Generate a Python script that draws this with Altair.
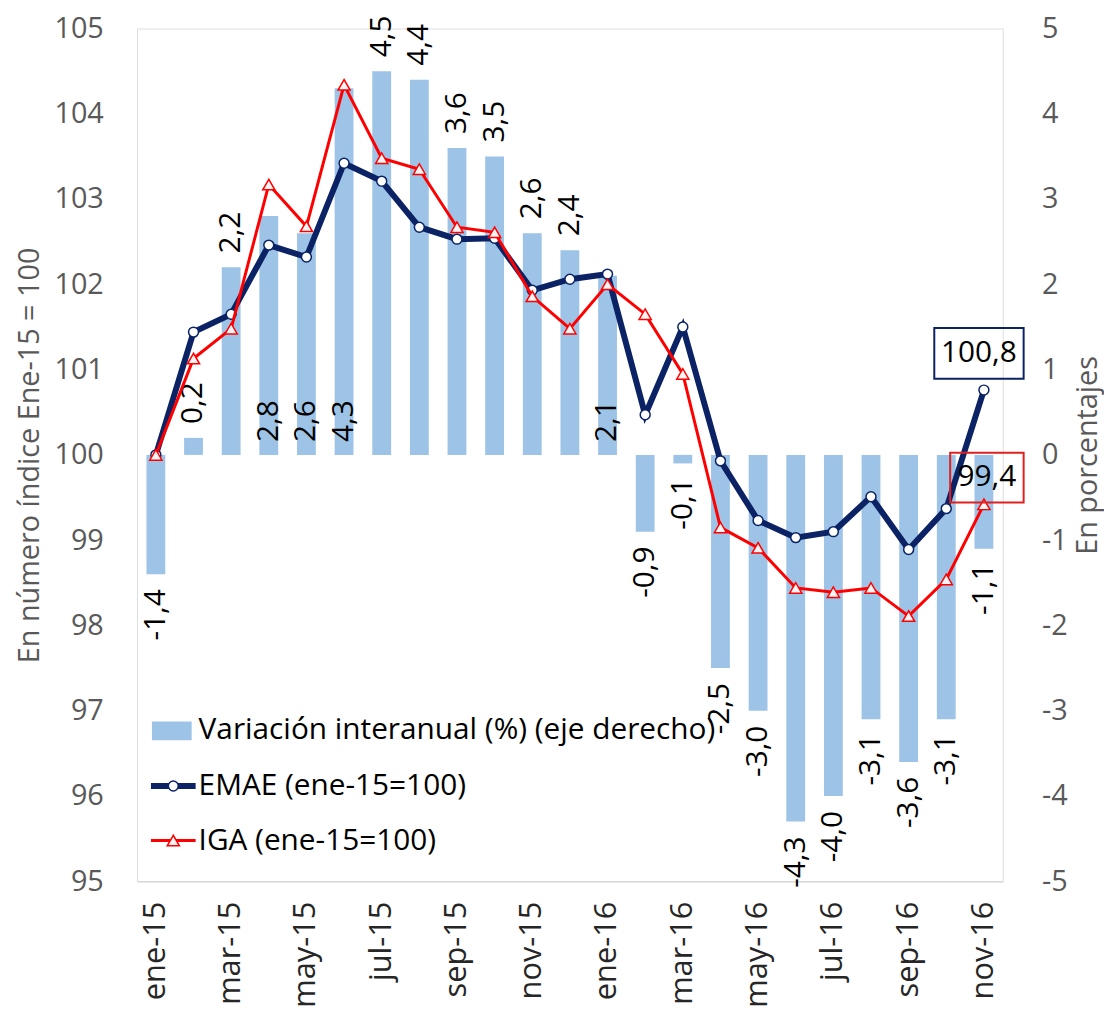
import altair as alt
import pandas as pd

meses = ["ene-15", "feb-15", "mar-15", "abr-15", "may-15", "jun-15", "jul-15", "ago-15",
         "sep-15", "oct-15", "nov-15", "dic-15", "ene-16", "feb-16", "mar-16", "abr-16",
         "may-16", "jun-16", "jul-16", "ago-16", "sep-16", "oct-16", "nov-16"]
variacion = [-1.4, 0.2, 2.2, 2.8, 2.6, 4.3, 4.5, 4.4, 3.6, 3.5, 2.6, 2.4, 2.1,
             -0.9, -0.1, -2.5, -3.0, -4.3, -4.0, -3.1, -3.6, -3.1, -1.1]
emae = [100.0, 101.44, 101.65, 102.46, 102.32, 103.42, 103.21, 102.67, 102.53, 102.54,
        101.93, 102.06, 102.12, 100.47, 101.50, 99.93, 99.23, 99.03, 99.10, 99.51,
        98.89, 99.37, 100.76]
iga = [100.0, 101.13, 101.48, 103.17, 102.68, 104.34, 103.48, 103.35, 102.67, 102.61,
       101.86, 101.48, 102.0, 101.65, 100.95, 99.15, 98.91, 98.44, 98.39, 98.44,
       98.11, 98.54, 99.42]
etiqueta_base = ["abr-15", "may-15", "jun-15", "ene-16"]
meses_eje = meses[::2]
leyenda = ["Variación interanual (%) (eje derecho)", "EMAE (ene-15=100)", "IGA (ene-15=100)"]
titulo_izq = "En número índice Ene-15 = 100"
titulo_der = "En porcentajes"

def coma(v):
    return f"{v:.1f}".replace(".", ",")

df = pd.DataFrame({
    "mes": meses,
    "var": variacion,
    "emae": emae,
    "iga": iga,
    "lab": [coma(v) for v in variacion],
    "base": [m in etiqueta_base for m in meses],
    "lab_emae": [coma(v) for v in emae],
    "lab_iga": [coma(v) for v in iga],
})

FONT = "Open Sans"
NAVY = "#0B2265"
RED = "#FF0000"
BARC = "#9DC3E6"
GRAY = "#595959"
W, H = 872, 859

x = alt.X("mes:N", sort=meses,
          scale=alt.Scale(paddingInner=0.5, paddingOuter=0.25),
          axis=alt.Axis(values=meses_eje, labelAngle=270, labelFontSize=31, labelFont=FONT,
                        labelColor="#262626", labelPadding=20, ticks=False, tickSize=0,
                        domainColor="#D9D9D9", domainWidth=1.5, title=None, grid=False))

axis_der = alt.Axis(orient="right", values=list(range(-5, 6)), title=titulo_der, grid=False,
                    ticks=False, tickSize=0, domain=False, labelPadding=39, labelFontSize=29,
                    labelFont=FONT, labelColor=GRAY, labelExpr="'' + datum.value",
                    titleFontSize=29, titleFont=FONT,
                    titleColor=GRAY, titleFontWeight="normal", titleAngle=270,
                    titleAlign="center", titleBaseline="middle", titleX=85, titleY=H / 2)
scale_der = alt.Scale(domain=[-5, 5], nice=False, zero=False)

axis_izq = alt.Axis(orient="left", values=list(range(95, 106)), title=titulo_izq, grid=False,
                    ticks=False, tickSize=0, domain=False, labelPadding=34, labelFontSize=29,
                    labelFont=FONT, labelColor=GRAY, titleFontSize=29, titleFont=FONT,
                    titleColor=GRAY, titleFontWeight="normal", titleAngle=270,
                    titleAlign="center", titleBaseline="middle", titleX=-108, titleY=H / 2)
scale_izq = alt.Scale(domain=[95, 105], nice=False, zero=False)

base = alt.Chart(df)

bars = base.mark_bar(color=BARC).encode(
    x=x, y=alt.Y("var:Q", scale=scale_der, axis=axis_der))

lab_pos = base.transform_filter("datum.var >= 0 && !datum.base").mark_text(
    angle=270, align="left", baseline="middle", dx=14, fontSize=30, font=FONT, color="black"
).encode(x=x, y=alt.Y("var:Q", scale=scale_der, axis=axis_der), text="lab:N")

lab_neg = base.transform_filter("datum.var < 0").mark_text(
    angle=270, align="right", baseline="middle", dx=-15, fontSize=30, font=FONT, color="black"
).encode(x=x, y=alt.Y("var:Q", scale=scale_der, axis=axis_der), text="lab:N")

lab_base = base.transform_filter("datum.base").transform_calculate(cero="0").mark_text(
    angle=270, align="left", baseline="middle", dx=13, fontSize=30, font=FONT, color="black"
).encode(x=x, y=alt.Y("cero:Q", scale=scale_der, axis=axis_der), text="lab:N")

capa_barras = alt.layer(bars, lab_pos, lab_neg, lab_base)

emae_line = base.mark_line(color=NAVY, strokeWidth=6).encode(
    x=x, y=alt.Y("emae:Q", scale=scale_izq, axis=axis_izq))
emae_pts = base.mark_point(shape="circle", filled=True, fill="white", stroke=NAVY,
                           strokeWidth=1.5, size=100, opacity=1).encode(
    x=x, y=alt.Y("emae:Q", scale=scale_izq, axis=axis_izq))
iga_line = base.mark_line(color=RED, strokeWidth=3).encode(
    x=x, y=alt.Y("iga:Q", scale=scale_izq, axis=axis_izq))
iga_pts = base.mark_point(shape="triangle-up", filled=True, fill="#FFF4F4", stroke=RED,
                          strokeWidth=1.5, size=150, opacity=1).encode(
    x=x, y=alt.Y("iga:Q", scale=scale_izq, axis=axis_izq))

ultimo = base.transform_filter(alt.datum.mes == meses[-1])
box_emae = ultimo.mark_point(
    shape="M-1,-0.567L1,-0.567L1,0.567L-1,0.567Z", size=8100, filled=False,
    stroke=NAVY, strokeWidth=2, opacity=1, xOffset=-5, yOffset=-37
).encode(x=x, y=alt.Y("emae:Q", scale=scale_izq, axis=axis_izq))
txt_emae = ultimo.mark_text(fontSize=30, font=FONT, color="black", dx=-5, dy=-37,
                            baseline="middle", align="center").encode(
    x=x, y=alt.Y("emae:Q", scale=scale_izq, axis=axis_izq), text="lab_emae:N")
box_iga = ultimo.mark_point(
    shape="M-1,-0.676L1,-0.676L1,0.676L-1,0.676Z", size=5476, filled=False,
    stroke="#E0201F", strokeWidth=2, opacity=1, xOffset=3, yOffset=-27
).encode(x=x, y=alt.Y("iga:Q", scale=scale_izq, axis=axis_izq))
txt_iga = ultimo.mark_text(fontSize=30, font=FONT, color="black", dx=3, dy=-27,
                           baseline="middle", align="center").encode(
    x=x, y=alt.Y("iga:Q", scale=scale_izq, axis=axis_izq), text="lab_iga:N")

capa_lineas = alt.layer(emae_line, emae_pts, iga_line, iga_pts,
                        box_emae, txt_emae, box_iga, txt_iga)

# Legend (manual, inside plot area)
ld = alt.Chart(pd.DataFrame({"t": [0]}))
leg_rect = ld.mark_rect(color=BARC).encode(
    x=alt.value(15), x2=alt.value(55), y=alt.value(698), y2=alt.value(717))
leg_t1 = alt.Chart(pd.DataFrame({"t": [leyenda[0]]})).mark_text(
    align="left", baseline="middle", fontSize=30, font=FONT, color="black").encode(
    x=alt.value(62), y=alt.value(707), text="t:N")
leg_r2 = ld.mark_rule(color=NAVY, strokeWidth=6).encode(
    x=alt.value(14), x2=alt.value(59), y=alt.value(763))
leg_p2 = ld.mark_point(shape="circle", filled=True, fill="white", stroke=NAVY,
                       strokeWidth=1.5, size=100, opacity=1).encode(
    x=alt.value(36.5), y=alt.value(763))
leg_t2 = alt.Chart(pd.DataFrame({"t": [leyenda[1]]})).mark_text(
    align="left", baseline="middle", fontSize=30, font=FONT, color="black").encode(
    x=alt.value(62), y=alt.value(763), text="t:N")
leg_r3 = ld.mark_rule(color=RED, strokeWidth=3).encode(
    x=alt.value(14), x2=alt.value(59), y=alt.value(818))
leg_p3 = ld.mark_point(shape="triangle-up", filled=True, fill="#FFF4F4", stroke=RED,
                       strokeWidth=1.5, size=150, opacity=1).encode(
    x=alt.value(36.5), y=alt.value(818))
leg_t3 = alt.Chart(pd.DataFrame({"t": [leyenda[2]]})).mark_text(
    align="left", baseline="middle", fontSize=30, font=FONT, color="black").encode(
    x=alt.value(62), y=alt.value(818), text="t:N")

chart = alt.layer(
    capa_barras, capa_lineas,
    leg_rect, leg_t1, leg_r2, leg_p2, leg_t2, leg_r3, leg_p3, leg_t3
).resolve_scale(y="independent").properties(
    width=W, height=H,
    autosize=alt.AutoSizeParams(type="none"),
    padding={"left": 130, "top": 17, "right": 102, "bottom": 127},
).configure_view(stroke=None).configure(background="white")

chart.save("out.html", embed_options={"renderer": "svg", "actions": False})
